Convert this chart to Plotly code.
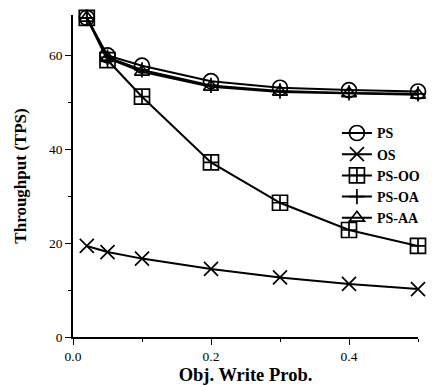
import plotly.graph_objects as go

x_vals = [0.02, 0.05, 0.1, 0.2, 0.3, 0.4, 0.5]
ps = [68.0, 60.0, 57.8, 54.5, 53.1, 52.6, 52.3]
os_ = [19.4, 18.1, 16.7, 14.5, 12.7, 11.3, 10.2]
ps_oo = [68.0, 59.0, 51.2, 37.2, 28.6, 22.8, 19.4]
ps_oa = [68.0, 59.6, 56.9, 53.6, 52.4, 52.0, 51.8]
ps_aa = [68.0, 59.4, 56.5, 53.3, 52.2, 51.9, 51.6]

names = ["PS", "OS", "PS-OO", "PS-OA", "PS-AA"]
series = [ps, os_, ps_oo, ps_oa, ps_aa]
symbols = ["circle-open", "x-thin-open", "square-cross-open", "cross-thin-open", "triangle-up-open"]
sizes = [15, 14, 15, 11, 13]

x_tickvals = [0.0, 0.2, 0.4]
x_ticktext = ["0.0", "0.2", "0.4"]
x_minor = [0.1, 0.3, 0.5]
y_tickvals = [0, 20, 40, 60]
y_minor = [10, 30, 50]

fig = go.Figure()
for name, ys, sym, sz in zip(names, series, symbols, sizes):
    fig.add_trace(go.Scatter(
        x=x_vals, y=ys, name=name, mode="lines+markers",
        line=dict(color="black", width=2),
        marker=dict(symbol=sym, size=sz, color="black",
                    line=dict(color="black", width=1.7)),
        cliponaxis=False,
    ))

font_serif = "Liberation Serif, Times New Roman, serif"
fig.update_layout(
    width=437, height=385,
    margin=dict(l=73, r=19, t=15, b=48),
    paper_bgcolor="white", plot_bgcolor="white",
    font=dict(family=font_serif, color="black", size=13),
    showlegend=True,
    legend=dict(x=0.765, y=0.682, xanchor="left", yanchor="top",
                bgcolor="rgba(0,0,0,0)", borderwidth=0,
                font=dict(family=font_serif, size=14, color="black", weight="bold"),
                itemwidth=30, tracegroupgap=0),
    xaxis=dict(range=[0, 0.5], showgrid=False, zeroline=False, automargin=False,
               showline=True, linecolor="black", linewidth=1.6,
               ticks="outside", ticklen=6, tickwidth=1.3, tickcolor="black",
               tickvals=x_tickvals, ticktext=x_ticktext,
               tickfont=dict(size=13.5),
               minor=dict(tickvals=x_minor, ticks="outside", ticklen=3,
                          tickcolor="black", tickwidth=1),
               title=dict(text="Obj. Write Prob.", font=dict(size=18.5, weight="bold"), standoff=14)),
    yaxis=dict(range=[0, 68.6], showgrid=False, zeroline=False, automargin=False,
               showline=True, linecolor="black", linewidth=1.6,
               ticks="outside", ticklen=6, tickwidth=1.3, tickcolor="black",
               tickvals=y_tickvals, tickfont=dict(size=13.5),
               minor=dict(tickvals=y_minor, ticks="outside", ticklen=3,
                          tickcolor="black", tickwidth=1),
               title=dict(text="Throughput (TPS)", font=dict(size=17, weight="bold"), standoff=18)),
)

fig.write_html("out.html")
